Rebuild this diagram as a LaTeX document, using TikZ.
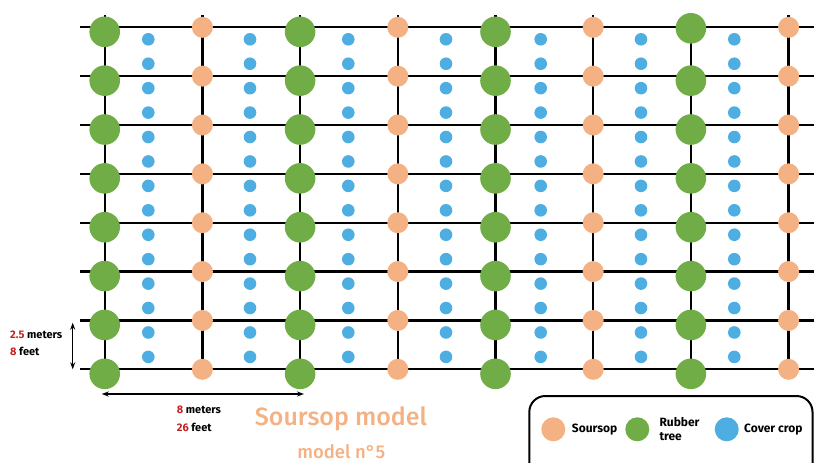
\documentclass[tikz,border=0pt]{standalone}
\usepackage{fontspec}
\setmainfont{Fira Sans}
\newfontfamily\titlefont{Fira Sans Medium}
\usetikzlibrary{arrows.meta}

\definecolor{rubbergreen}{HTML}{70AD47}
\definecolor{soursoporange}{HTML}{F4B183}
\definecolor{coverblue}{HTML}{4EAEE2}
\definecolor{dimred}{RGB}{196,34,34}

\tikzset{
  gridline/.style={line width=2.3pt, black},
  rubber/.style={circle, fill=rubbergreen, minimum size=30.6pt, inner sep=0pt},
  soursop/.style={circle, fill=soursoporange, minimum size=21pt, inner sep=0pt},
  cover/.style={circle, fill=coverblue, minimum size=12.6pt, inner sep=0pt},
  dimarrow/.style={line width=1.2pt, {Stealth[length=7pt,width=5pt]}-{Stealth[length=7pt,width=5pt]}},
  dimlabel/.style={anchor=west, font=\bfseries\fontsize{11}{13}\selectfont, inner sep=0pt},
  legendlabel/.style={anchor=west, font=\bfseries\fontsize{12}{14}\selectfont, inner sep=0pt, align=left},
  legendbox/.style={draw=black, line width=2pt, rounded corners=16pt},
}

\begin{document}
\begin{tikzpicture}[x=1pt, y=-1pt]
  \useasboundingbox (0,0) rectangle (814,463);

  % grid: horizontal rows and vertical planting lines
  \foreach \k in {0,...,7} {
    \pgfmathsetmacro{\ry}{27.3+48.86*\k}
    \coordinate (hl-\k) at (80,\ry);
    \coordinate (hr-\k) at (814,\ry);
    \draw[gridline] (hl-\k) -- (hr-\k);
  }
  \foreach \c in {0,...,7} {
    \pgfmathsetmacro{\cx}{104.7+97.7*\c}
    \coordinate (vt-\c) at (\cx,15);
    \coordinate (vb-\c) at (\cx,369.3);
    \draw[gridline] (vt-\c) -- (vb-\c);
  }

  % cover crop dots between the tree lines
  \foreach \bx [count=\b] in {148.3,250,348.3,446,540.7,641,734.3} {
    \foreach \k in {0,...,13} {
      \pgfmathsetmacro{\by}{39.3+24.43*\k}
      \node[cover] (cc-\b-\k) at (\bx,\by) {};
    }
  }

  % soursop trees on the odd lines
  \foreach \c in {1,3,5,7} {
    \pgfmathsetmacro{\cx}{104.7+97.7*\c}
    \foreach \k in {0,...,7} {
      \pgfmathsetmacro{\ry}{27.3+48.86*\k}
      \node[soursop] (ss-\c-\k) at (\cx,\ry) {};
    }
  }

  % rubber trees on the even lines
  \foreach \c in {0,2,4,6} {
    \pgfmathsetmacro{\cx}{104.7+97.7*\c}
    \foreach \k in {0,...,7} {
      \pgfmathsetmacro{\ry}{27.3+48.86*\k+4.5}
      \ifnum\c=6 \ifnum\k=0 \pgfmathsetmacro{\ry}{28.3}\fi\fi
      \node[rubber] (rt-\c-\k) at (\cx,\ry) {};
    }
  }

  % spacing dimensions
  \coordinate (dv-top) at (72.7,322.7);
  \coordinate (dv-bot) at (72.7,369.3);
  \draw[dimarrow] (dv-top) -- (dv-bot);
  \coordinate (dh-left) at (101.7,394);
  \coordinate (dh-right) at (304,394);
  \draw[dimarrow] (dh-left) -- (dh-right);

  \node[dimlabel] (row-m) at (10,335) {\textcolor{dimred}{2.5} meters};
  \node[dimlabel] (row-f) at (10,351.5) {\textcolor{dimred}{8} feet};
  \node[dimlabel] (line-m) at (176.7,410) {\textcolor{dimred}{8} meters};
  \node[dimlabel] (line-f) at (176.7,427) {\textcolor{dimred}{26} feet};

  % title
  \node[text=soursoporange, font=\titlefont\fontsize{25}{28}\selectfont, inner sep=0pt] (title) at (341,419) {Soursop model};
  \node[text=soursoporange, font=\titlefont\fontsize{18.5}{21}\selectfont, inner sep=0pt] (subtitle) at (341.3,451.5) {model n°5};

  % legend
  \draw[legendbox] (529.3,396) rectangle (812.5,480);
  \node[soursop, minimum size=24pt] (lg-ss) at (553.3,429.3) {};
  \node[legendlabel] (lg-ss-t) at (571.7,429.3) {Soursop};
  \node[rubber, minimum size=24pt] (lg-rt) at (637.3,429.3) {};
  \node[legendlabel] (lg-rt-t) at (659.3,429.3) {Rubber\\tree};
  \node[cover, minimum size=24pt] (lg-cc) at (726.7,429.3) {};
  \node[legendlabel] (lg-cc-t) at (744,429.3) {Cover crop};
\end{tikzpicture}
\end{document}
